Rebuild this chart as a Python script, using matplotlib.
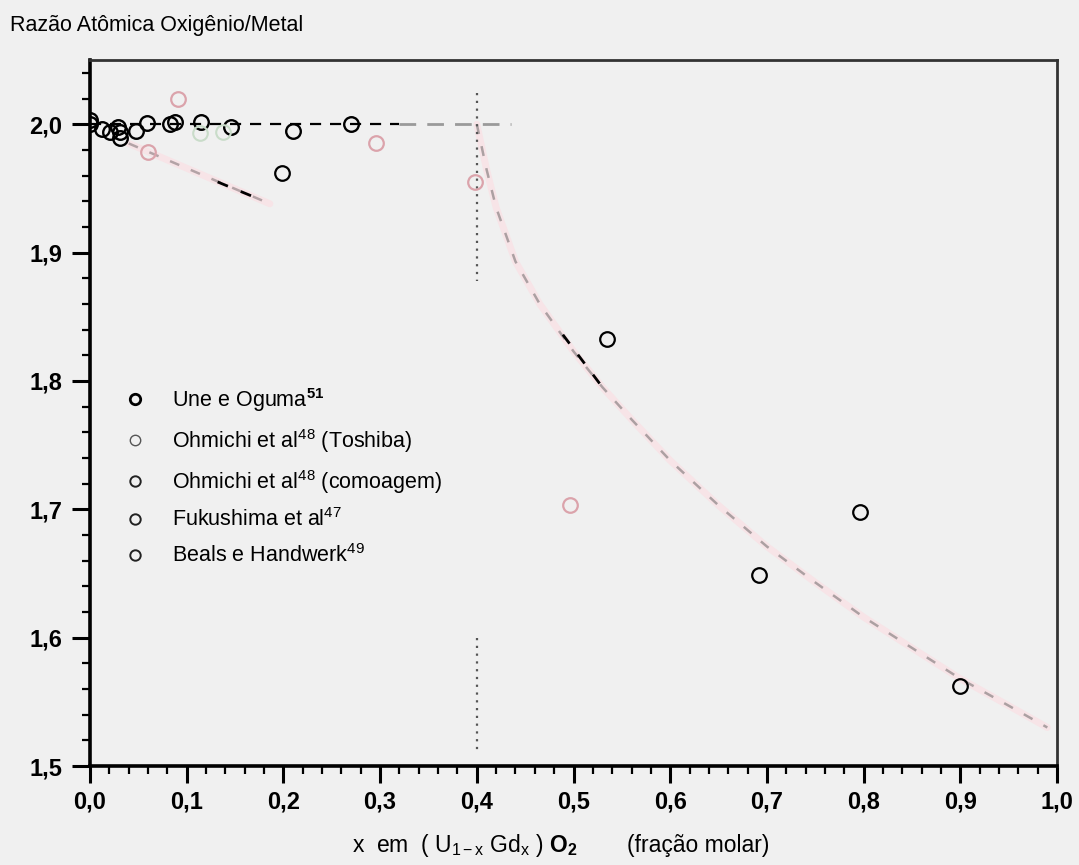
import matplotlib
matplotlib.use("Agg")
import matplotlib.pyplot as plt
from matplotlib.lines import Line2D

plt.rcParams['font.family'] = ['Liberation Sans', 'DejaVu Sans']
plt.rcParams['mathtext.fontset'] = 'custom'
plt.rcParams['mathtext.rm'] = 'Liberation Sans'
plt.rcParams['mathtext.bf'] = 'Liberation Sans:bold'
plt.rcParams['mathtext.it'] = 'Liberation Sans'

# ---------------- data ----------------
une_x = [0.000, 0.000, 0.012, 0.021, 0.029, 0.031, 0.031, 0.048, 0.059, 0.083, 0.088, 0.115, 0.146, 0.210, 0.270]
une_y = [2.003, 2.000, 1.996, 1.994, 1.998, 1.994, 1.989, 1.995, 2.001, 2.000, 2.002, 2.002, 1.998, 1.995, 2.000]

toshiba_x = [0.114, 0.138]
toshiba_y = [1.993, 1.994]

comoagem_x = [0.060, 0.091, 0.296, 0.398, 0.496]
comoagem_y = [1.978, 2.020, 1.985, 1.955, 1.703]

fukushima_x = [0.199]
fukushima_y = [1.962]

beals_x = [0.535, 0.692, 0.796, 0.900]
beals_y = [1.833, 1.649, 1.698, 1.562]

# stoichiometric line (O/M = 2)
stoich_x = [0.0, 0.32]
stoich_y = [2.0, 2.0]
stoich_ext_x = [0.32, 0.435]
stoich_ext_y = [2.0, 2.0]

# descending line at low x
low_x = [0.040, 0.186]
low_y = [1.985, 1.938]
low_black_x = [0.132, 0.177]
low_black_y = [1.955, 1.941]

# curve at high x
curve_x = [0.400, 0.410, 0.420, 0.440, 0.465, 0.500, 0.530, 0.560, 0.600, 0.650,
           0.700, 0.750, 0.800, 0.850, 0.900, 0.950, 0.990]
curve_y = [2.000, 1.965, 1.935, 1.893, 1.860, 1.823, 1.795, 1.770, 1.738, 1.703,
           1.671, 1.643, 1.616, 1.592, 1.568, 1.547, 1.530]
curve_black_x = [0.489, 0.532]
curve_black_y = [1.836, 1.793]

# vertical dotted marker at x = 0.4
vline_x = 0.4
vline_upper = [2.024, 1.878]
vline_lower = [1.600, 1.509]

xticks = [0.0, 0.1, 0.2, 0.3, 0.4, 0.5, 0.6, 0.7, 0.8, 0.9, 1.0]
xticklabels = ['0,0', '0,1', '0,2', '0,3', '0,4', '0,5', '0,6', '0,7', '0,8', '0,9', '1,0']
yticks = [1.5, 1.6, 1.7, 1.8, 1.9, 2.0]
yticklabels = ['1,5', '1,6', '1,7', '1,8', '1,9', '2,0']

legend_labels = [r'Une e Oguma$^{\mathbf{51}}$',
                 r'Ohmichi et al$^{\mathregular{48}}$ (Toshiba)',
                 r'Ohmichi et al$^{\mathregular{48}}$ (comoagem)',
                 r'Fukushima et al$^{\mathregular{47}}$',
                 r'Beals e Handwerk$^{\mathregular{49}}$']

# ---------------- figure ----------------
W, H = 1079, 865
bg = '#f0f0f0'
fig = plt.figure(figsize=(W / 100, H / 100), dpi=100, facecolor=bg)
ax = fig.add_axes([90 / W, 1 - 766 / H, (1057 - 90) / W, (766 - 60) / H], facecolor=bg)

ax.set_xlim(0, 1.0)
ax.set_ylim(1.5, 2.05)

# lines
ax.plot(stoich_x, stoich_y, color='black', lw=1.6, dashes=(5, 4), zorder=3)
ax.plot(stoich_ext_x, stoich_ext_y, color='#9a9a9a', lw=2.0, dashes=(6, 4), zorder=2)

ax.plot(low_x, low_y, color='#f7e4e7', lw=5, solid_capstyle='round', zorder=1)
ax.plot(low_x, low_y, color='#b3a3a6', lw=1.8, dashes=(4, 5), zorder=2)
ax.plot(low_black_x, low_black_y, color='black', lw=2.0, dashes=(4, 5), zorder=3)

ax.plot(curve_x, curve_y, color='#f7e4e7', lw=5, solid_capstyle='round', zorder=1)
ax.plot(curve_x, curve_y, color='#aca0a2', lw=1.8, dashes=(4, 5), zorder=2)
ax.plot(curve_black_x, curve_black_y, color='black', lw=2.0, dashes=(4, 5), zorder=3)

ax.plot([vline_x, vline_x], vline_upper, color='#555555', lw=1.6, ls=(0, (1, 2.5)), zorder=2)
ax.plot([vline_x, vline_x], vline_lower, color='#555555', lw=1.6, ls=(0, (1, 2.5)), zorder=2)

# points
mk = dict(marker='o', ls='none', mfc='none', ms=10.5, zorder=4)
ax.plot(une_x, une_y, mec='black', mew=1.7, **mk)
ax.plot(toshiba_x, toshiba_y, mec='#c9dcc9', mew=1.5, **mk)
ax.plot(comoagem_x, comoagem_y, mec='#dba3ab', mew=1.6, **mk)
ax.plot(fukushima_x, fukushima_y, mec='black', mew=1.6, **mk)
ax.plot(beals_x, beals_y, mec='black', mew=1.6, **mk)

# legend
handles = [Line2D([], [], marker='o', ls='none', mfc='none', mec='black', ms=7.5, mew=2.0),
           Line2D([], [], marker='o', ls='none', mfc='none', mec='#555555', ms=7.5, mew=1.0),
           Line2D([], [], marker='o', ls='none', mfc='none', mec='#222222', ms=7.5, mew=1.4),
           Line2D([], [], marker='o', ls='none', mfc='none', mec='#222222', ms=7.5, mew=1.4),
           Line2D([], [], marker='o', ls='none', mfc='none', mec='#222222', ms=7.5, mew=1.4)]
ax.legend(handles, legend_labels, loc='upper left',
          bbox_to_anchor=(124 / W, 1 - 386 / H), bbox_transform=fig.transFigure,
          frameon=False, fontsize=15.5, handlelength=1.0, handletextpad=1.25,
          labelspacing=0.6, borderpad=0, borderaxespad=0)

# spines & ticks
for s in ['left', 'bottom']:
    ax.spines[s].set_linewidth(2.6)
    ax.spines[s].set_color('black')
for s in ['top', 'right']:
    ax.spines[s].set_linewidth(2.0)
    ax.spines[s].set_color('#333333')

ax.set_xticks(xticks)
ax.set_xticklabels(xticklabels)
ax.set_yticks(yticks)
ax.set_yticklabels(yticklabels)
ax.set_xticks([v / 50 for v in range(51)], minor=True)
ax.set_yticks([1.5 + v / 50 for v in range(28)], minor=True)
ax.tick_params(axis='y', which='major', direction='out', length=13, width=2.2, labelsize=17, pad=7, colors='black')
ax.tick_params(axis='x', which='major', direction='out', length=12, width=2.2, labelsize=17, pad=6, colors='black')
ax.tick_params(which='minor', direction='out', length=6, width=1.6, colors='black')
ax.tick_params(top=False, right=False, which='both')
for lab in ax.get_xticklabels() + ax.get_yticklabels():
    lab.set_fontweight('bold')

# titles
fig.text(10 / W, 1 - 31 / H, 'Razão Atômica Oxigênio/Metal', fontsize=15.5, ha='left', va='baseline')
fig.text(352 / W, 1 - 852 / H,
         r'x  em  ( U$_{\mathregular{1-x}}$ Gd$_{\mathregular{x}}$ ) $\mathbf{O}_{\mathbf{2}}$',
         fontsize=16.5, ha='left', va='baseline')
fig.text(627 / W, 1 - 852 / H, '(fração molar)', fontsize=16.5, ha='left', va='baseline')

fig.savefig('out.png', dpi=100, facecolor=bg)
